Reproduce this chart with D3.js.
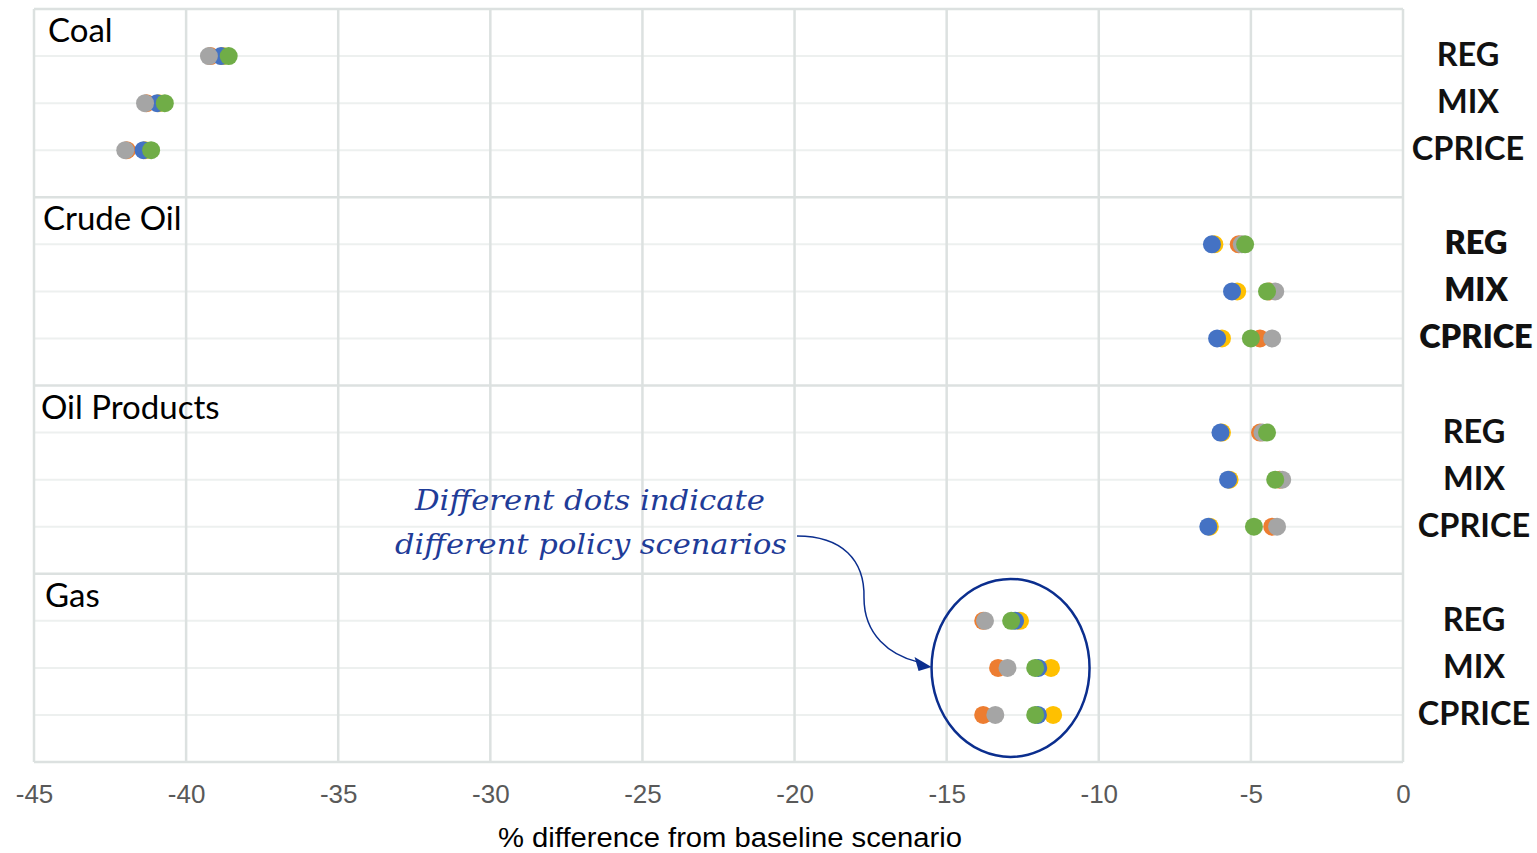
<!DOCTYPE html>
<html>
<head>
<meta charset="utf-8">
<script src="https://cdn.jsdelivr.net/npm/d3@7"></script>
<style>
  html, body { margin: 0; padding: 0; background: #ffffff; }
  svg { display: block; }
</style>
</head>
<body>
<svg id="chart" width="1537" height="853"></svg>
<script>
// ---------------- DATA ----------------
const groups = ["Coal", "Crude Oil", "Oil Products", "Gas"];
const policies = ["REG", "MIX", "CPRICE"];
const xTicks = [-45, -40, -35, -30, -25, -20, -15, -10, -5, 0];
const xTitle = "% difference from baseline scenario";
const noteLines = ["Different dots indicate", "different policy scenarios"];

// one array per scenario, ordered Coal(REG,MIX,CPRICE), Crude Oil(...), Oil Products(...), Gas(...)
const seriesNames = ["Scenario A", "Scenario B", "Scenario C", "Scenario D", "Scenario E"];
const scenarioA = [-39.2, -41.3, -41.95,  -5.4, -4.4, -4.7,   -4.7, -4.05, -4.3,   -13.8, -13.31, -13.8];   // orange
const scenarioB = [-38.8, -40.9, -41.35,  -6.2, -5.45, -5.95, -5.95, -5.7, -6.35,  -12.59, -11.57, -11.5];  // yellow
const scenarioC = [-38.85, -40.95, -41.4, -6.28, -5.62, -6.11, -6.0, -5.75, -6.4,  -12.75, -11.99, -12.0];  // blue
const scenarioD = [-39.25, -41.35, -42.0, -5.3, -4.2, -4.3,   -4.62, -3.97, -4.14, -13.74, -13.0, -13.4];   // gray
const scenarioE = [-38.6, -40.7, -41.15,  -5.19, -4.47, -5.0, -4.47, -4.2, -4.9,   -12.88, -12.09, -12.09]; // green
const seriesValues = [scenarioA, scenarioB, scenarioC, scenarioD, scenarioE];
const seriesColors = ["#ED7D31", "#FFC000", "#4472C4", "#A5A5A5", "#70AD47"];

// ---------------- LAYOUT ----------------
const svg = d3.select("#chart");
const mLeft = 34, mRight = 1403, mTop = 9, mBottom = 762;
const x = d3.scaleLinear().domain([-45, 0]).range([mLeft, mRight]);
const slots = groups.length * 4;
const y = d3.scaleLinear().domain([0, slots]).range([mTop, mBottom]);
const rowIndex = (g, p) => g * 4 + p + 1;

// row gridlines (light)
const rowLines = [];
groups.forEach((g, gi) => policies.forEach((p, pi) => rowLines.push(rowIndex(gi, pi))));
svg.append("g").selectAll("line").data(rowLines).join("line")
  .attr("x1", mLeft).attr("x2", mRight)
  .attr("y1", d => y(d)).attr("y2", d => y(d))
  .attr("stroke", "#edf0ef").attr("stroke-width", 2);

// vertical gridlines
svg.append("g").selectAll("line").data(xTicks).join("line")
  .attr("x1", d => x(d)).attr("x2", d => x(d))
  .attr("y1", mTop).attr("y2", mBottom)
  .attr("stroke", "#dce1e0").attr("stroke-width", 2.5);

// group boundaries
const groupLines = d3.range(0, slots + 1, 4);
svg.append("g").selectAll("line").data(groupLines).join("line")
  .attr("x1", mLeft).attr("x2", mRight)
  .attr("y1", d => y(d)).attr("y2", d => y(d))
  .attr("stroke", "#dce1e0").attr("stroke-width", 2.5);

// x axis tick labels
const xAxis = d3.axisBottom(x).tickValues(xTicks).tickSize(0).tickPadding(0).tickFormat(d => String(d));
const axG = svg.append("g").attr("transform", `translate(0,${mBottom})`).call(xAxis);
axG.select(".domain").remove();
axG.selectAll("text")
  .attr("y", 41)
  .attr("dy", 0)
  .attr("fill", "#595959")
  .style("font-family", "'Liberation Sans', Arial, sans-serif")
  .style("font-size", "26px");

// x title
svg.append("text")
  .attr("x", (498 + 962) / 2).attr("y", 847)
  .attr("text-anchor", "middle")
  .attr("fill", "#000")
  .attr("textLength", 464).attr("lengthAdjust", "spacingAndGlyphs")
  .style("font-family", "'Liberation Sans', Arial, sans-serif")
  .style("font-size", "27px")
  .text(xTitle);

// group labels
const groupLabelX = [48, 43, 41, 45];
svg.append("g").selectAll("text").data(groups).join("text")
  .attr("x", (d, i) => groupLabelX[i])
  .attr("y", (d, i) => y(i * 4) + 33)
  .attr("fill", "#000")
  .style("font-family", "Lato, 'Open Sans', sans-serif")
  .style("font-size", "33px")
  .text(d => d);

// policy labels on the right
const policyCenterX = [1468, 1476, 1474, 1474];
const labels = [];
groups.forEach((g, gi) => policies.forEach((p, pi) => labels.push({g: gi, p: pi, t: p})));
svg.append("g").selectAll("text").data(labels).join("text")
  .attr("x", d => policyCenterX[d.g])
  .attr("y", d => y(rowIndex(d.g, d.p)) + 10)
  .attr("text-anchor", "middle")
  .attr("fill", "#111")
  .style("font-family", "Lato, 'Open Sans', sans-serif")
  .style("font-weight", d => d.g === 1 ? 800 : 700)
  .style("font-size", "32.5px")
  .text(d => d.t);

// dots
const dots = [];
seriesValues.forEach((vals, si) => {
  vals.forEach((v, k) => {
    const gi = Math.floor(k / 3), pi = k % 3;
    dots.push({s: si, v: v, row: rowIndex(gi, pi)});
  });
});
svg.append("g").selectAll("circle").data(dots).join("circle")
  .attr("cx", d => x(d.v))
  .attr("cy", d => y(d.row))
  .attr("r", 9)
  .attr("fill", d => seriesColors[d.s]);

// annotation
const noteColor = "#1f3c98";
const note = svg.append("g");
note.append("text").attr("x", 590).attr("y", 510)
  .attr("text-anchor", "middle").attr("fill", noteColor)
  .attr("textLength", 350).attr("lengthAdjust", "spacingAndGlyphs")
  .style("font-family", "'DejaVu Serif', serif").style("font-style", "italic")
  .style("font-size", "28px").text(noteLines[0]);
note.append("text").attr("x", 591).attr("y", 554)
  .attr("text-anchor", "middle").attr("fill", noteColor)
  .attr("textLength", 392).attr("lengthAdjust", "spacingAndGlyphs")
  .style("font-family", "'DejaVu Serif', serif").style("font-style", "italic")
  .style("font-size", "28px").text(noteLines[1]);

// ellipse around gas group
const gasTop = y(rowIndex(3, 0)), gasBot = y(rowIndex(3, 2));
const ecx = x(-12.9), ecy = (gasTop + gasBot) / 2;
note.append("ellipse")
  .attr("cx", ecx).attr("cy", ecy).attr("rx", 79).attr("ry", 89)
  .attr("fill", "none").attr("stroke", "#0b2e8e").attr("stroke-width", 2.5);

// curved arrow
const ax0 = 797, ay0 = 536;
const tipX = ecx - 79, tipY = ecy - 1;
note.append("path")
  .attr("d", `M${ax0},${ay0} C${ax0 + 45},${ay0} ${865},${560} ${864},${598} C${864},${635} ${890},${655} ${tipX - 14},${tipY - 5}`)
  .attr("fill", "none").attr("stroke", "#0b2e8e").attr("stroke-width", 1.5);
note.append("path")
  .attr("d", `M${tipX},${tipY} L${tipX - 17},${tipY - 10} L${tipX - 13},${tipY + 4} Z`)
  .attr("fill", "#0b2e8e");
</script>
</body>
</html>
